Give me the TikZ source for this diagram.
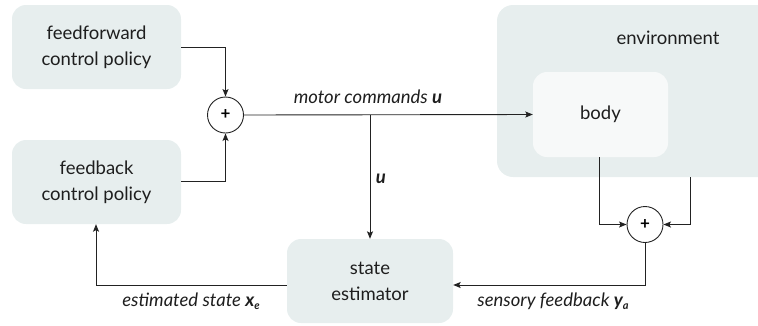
\documentclass[tikz,border=0pt]{standalone}
\usepackage{fontspec}
\setmainfont{Lato}
\usetikzlibrary{arrows.meta,calc}
\newcommand{\bvec}[1]{{\bfseries\itshape #1}}
\newcommand{\bsub}[1]{\raisebox{-0.4ex}{\fontsize{11}{11}\selectfont\bfseries\itshape #1}}
\begin{document}
\begin{tikzpicture}[x=1pt,y=-1pt,
  panel/.style={fill=boxfill,rounded corners=14pt,inner sep=0pt},
  blk/.style={panel,minimum width=169pt,minimum height=84pt,align=center,font=\fontsize{18.5}{26}\selectfont,text=textcol},
  sumnode/.style={circle,draw=linecol,line width=0.9pt,minimum size=36pt,inner sep=0pt,font=\fontsize{17}{17}\selectfont\bfseries},
  conn/.style={draw=linecol,line width=0.9pt,-{Stealth[length=7.5pt,width=6pt,inset=1.5pt]}},
  lbl/.style={font=\fontsize{18.5}{22}\selectfont\itshape,text=textcol}
]
\definecolor{boxfill}{HTML}{E7EEEE}
\definecolor{bodyfill}{HTML}{F7F9F9}
\definecolor{linecol}{HTML}{222222}
\definecolor{textcol}{HTML}{1E1E1E}
\useasboundingbox (0,0) rectangle (758,325);
\clip (0,0) rectangle (758,325);

% environment panel (runs off the right edge) and the body inside it
\fill[boxfill,rounded corners=16pt] (497,5) rectangle (790,177);
\node[font=\fontsize{18.5}{22}\selectfont,text=textcol] (envlbl) at (668,38) {environment};
\node[panel,fill=bodyfill,minimum width=135pt,minimum height=85pt,font=\fontsize{18.5}{22}\selectfont,text=textcol] (body) at (600.5,114.5) {body};
\coordinate (envR) at (690,177);

% controller blocks
\node[blk] (ff) at (96.5,47) {feedforward\\control policy};
\node[blk] (fb) at (96.5,182) {feedback\\control policy};
\node[blk,minimum width=166pt,minimum height=84pt] (se) at (370,281) {state\\estimator};

% summing junctions
\node[sumnode] (s1) at (225.5,115) {+};
\node[sumnode] (s2) at (645,224.5) {+};

% feedforward and feedback into the first sum
\draw[conn] (ff.east |- 0,47) -| (s1.north);
\draw[conn] (fb.east |- 0,181) -| (s1.south);

% motor commands to the body, with a branch to the estimator
\draw[conn] (s1.east) -- (body.west);
\coordinate (br) at (370,115);
\draw[conn] (br) -- (se.north);

% body and environment outputs into the second sum
\draw[conn] (body.south -| 599,0) |- (s2.west);
\draw[conn] (envR) |- (s2.east);

% sensory feedback to the estimator, estimate back to the feedback policy
\draw[conn] (s2.south) |- (se.east |- 0,285);
\draw[conn] (se.west |- 0,285) -| (fb.south -| 96,0);

% signal labels
\node[lbl,anchor=base] (mc) at (368,103) {motor commands \bvec{u}};
\node[lbl,anchor=base] (ul) at (381,183) {\bvec{u}};
\node[lbl,anchor=base] (es) at (191,306) {estimated state \bvec{x}\bsub{e}};
\node[lbl,anchor=base] (sf) at (553,306) {sensory feedback \bvec{y}\bsub{a}};
\end{tikzpicture}
\end{document}
